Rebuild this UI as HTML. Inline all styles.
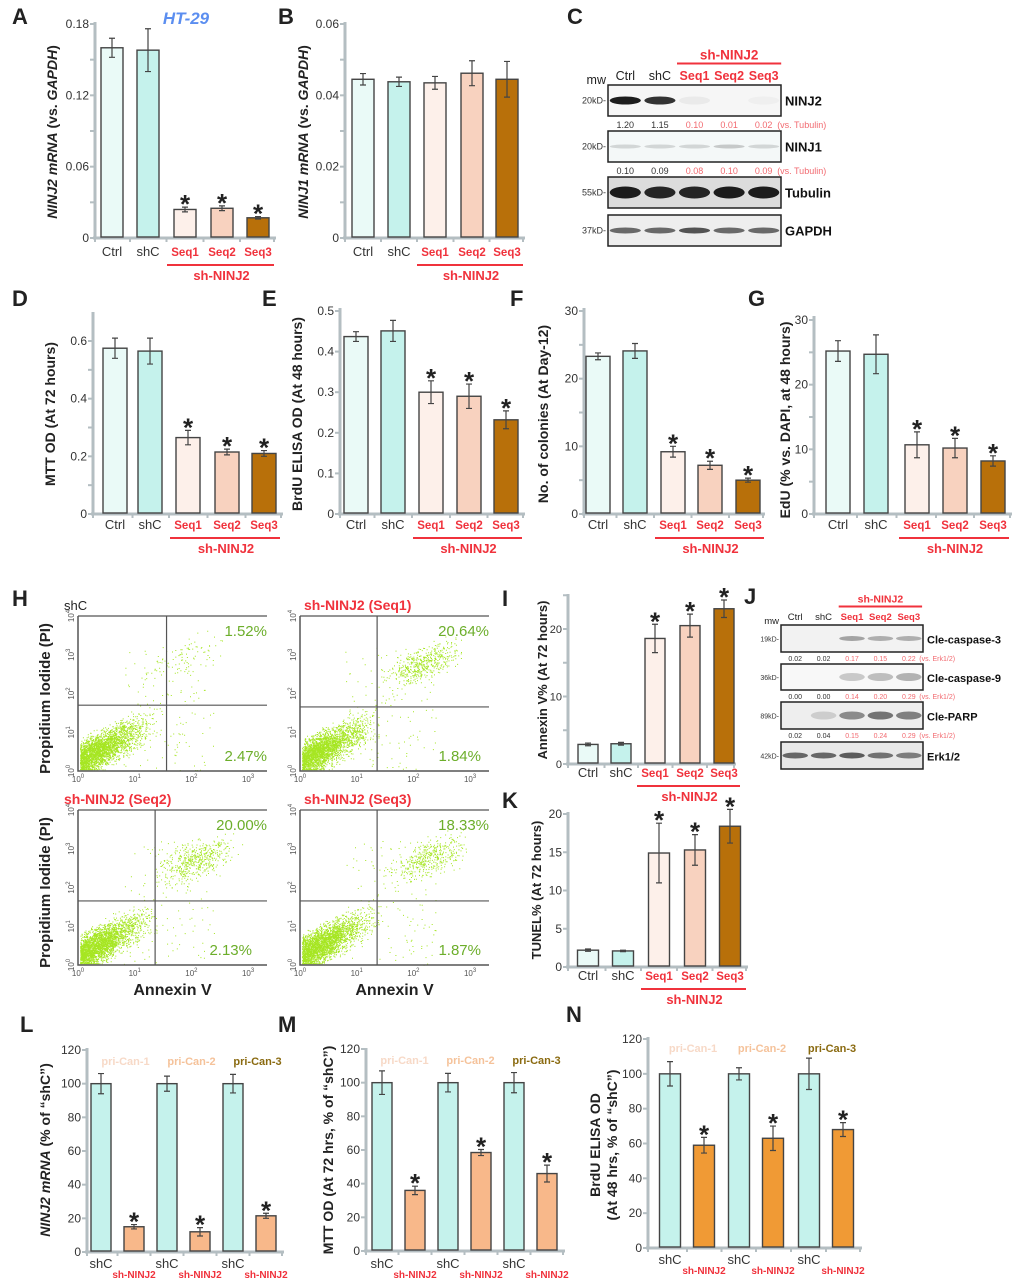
<!DOCTYPE html>
<html><head><meta charset="utf-8">
<style>
body{margin:0;background:#fff;}
svg{display:block;font-family:"Liberation Sans",Arial,sans-serif;}
</style></head>
<body>
<svg id="fig" width="1020" height="1281" viewBox="0 0 1020 1281" xmlns="http://www.w3.org/2000/svg">
<g id="root"></g>
</svg>
<script>
// ---- data ----
const catsA = ["Ctrl","shC","Seq1","Seq2","Seq3"];
const valsA = [0.160,0.158,0.024,0.025,0.017];
const errA  = [0.008,0.018,0.002,0.002,0.001];
const valsB = [0.0445,0.0438,0.0435,0.0462,0.0445];
const errB  = [0.0016,0.0013,0.0018,0.0035,0.0050];
const valsD = [0.575,0.565,0.265,0.215,0.210];
const errD  = [0.035,0.045,0.025,0.010,0.010];
const valsE = [0.437,0.451,0.300,0.290,0.232];
const errE  = [0.012,0.026,0.028,0.030,0.022];
const valsF = [23.3,24.1,9.2,7.2,5.0];
const errF  = [0.5,1.1,0.8,0.6,0.3];
const valsG = [25.2,24.7,10.7,10.2,8.2];
const errG  = [1.6,3.0,2.0,1.5,0.8];
const valsI = [2.9,3.0,18.6,20.5,23.0];
const errI  = [0.2,0.2,2.1,1.7,1.3];
const valsK = [2.2,2.1,14.9,15.3,18.4];
const errK  = [0.15,0.1,3.9,2.0,2.2];
const catsL = ["shC","sh-NINJ2","shC","sh-NINJ2","shC","sh-NINJ2"];
const valsL = [100,15,100,12,100,21.5];
const errL  = [6,1.3,4.5,2.5,5.5,1.5];
const valsM = [100,36,100,58.5,100,46];
const errM  = [7,2.5,5.5,1.8,6,5];
const valsN = [100,59,100,63,100,68];
const errN  = [7,4.5,3.5,7,9,4];
const blotC1 = ["1.20","1.15","0.10","0.01","0.02"];
const blotC2 = ["0.10","0.09","0.08","0.10","0.09"];
const blotJ1 = ["0.02","0.02","0.17","0.15","0.22"];
const blotJ2 = ["0.00","0.00","0.14","0.20","0.29"];
const blotJ3 = ["0.02","0.04","0.15","0.24","0.29"];
const flowLabels = ["shC","sh-NINJ2 (Seq1)","sh-NINJ2 (Seq2)","sh-NINJ2 (Seq3)"];
const flowUR = ["1.52%","20.64%","20.00%","18.33%"];
const flowLR = ["2.47%","1.84%","2.13%","1.87%"];

const NS="http://www.w3.org/2000/svg";
const root=document.getElementById('root');
function el(tag,attrs,parent,txt){const e=document.createElementNS(NS,tag);for(const k in attrs)e.setAttribute(k,attrs[k]);if(txt!==undefined)e.textContent=txt;(parent||root).appendChild(e);return e;}
const AX="#b4bec2", RED="#f0323c";
const col5=["#eafaf7","#c5f2ec","#fdf0ea","#f8d2bf","#b8700a"];

function barChart(o){
  const g=el('g',{});
  
  
  const y=v=>o.y0-(v/o.ymax)*(o.y0-o.ytop);
  const ax=el('line',{x1:o.ax,y1:o.axTop,x2:o.ax,y2:o.y0+1,stroke:AX,'stroke-width':3},g);
  
  const xa=el('line',{x1:o.ax-2,y1:o.y0,x2:o.axRight,y2:o.y0,stroke:AX,'stroke-width':3},g);
  
  o.ticks.forEach((t,i)=>{
    el('line',{x1:o.ax-5,y1:y(t),x2:o.ax,y2:y(t),stroke:AX,'stroke-width':2},g);
    if(o.tickLabels[i]!==""){const tl=el('text',{x:o.ax-6,y:y(t)+4,'text-anchor':'end','font-size':o.tfs||12,fill:'#333'},g,o.tickLabels[i]);
    }
  });
  const n=o.vals.length;
  const xs=o.xs;
  for(let i=0;i<=n;i++){const xx=i==0?o.ax:(i==n?o.axRight-2:(xs[i-1]+xs[i])/2);el('line',{x1:xx,y1:o.y0,x2:xx,y2:o.y0+4,stroke:AX,'stroke-width':2},g);}
  o.vals.forEach((v,i)=>{
    const r=el('rect',{x:xs[i]-o.bw/2,y:y(v),width:o.bw,height:o.y0-1-y(v),fill:o.colors[i],stroke:'#444','stroke-width':1.4},g);
    
    const e=o.errs[i],yt=y(v+e),yb=y(v-e);
    el('path',{d:`M${xs[i]},${yt}V${yb}M${xs[i]-3},${yt}H${xs[i]+3}M${xs[i]-3},${yb}H${xs[i]+3}`,stroke:'#444','stroke-width':1.2,fill:'none'},g);
    if(o.stars[i]){const s=el('text',{x:xs[i],y:yt+6,'text-anchor':'middle','font-size':26,'font-weight':'bold',fill:'#222'},g,'*');
      }
    const lab=o.cats[i];
    const isRed=lab.startsWith('Seq')||lab==='sh-NINJ2';
    const t=el('text',{x:xs[i],y:o.labY+(lab==='sh-NINJ2'?10:0),'text-anchor':'middle','font-size':lab==='sh-NINJ2'?10:(isRed?11.5:13),'font-weight':isRed?'bold':'normal',fill:isRed?RED:'#333'},g,lab);
    
  });
  if(o.group){
    el('line',{x1:xs[2]-18,y1:o.labY+9,x2:xs[4]+16,y2:o.labY+9,stroke:RED,'stroke-width':2},g);
    const gl=el('text',{x:(xs[2]+xs[4])/2,y:o.labY+24,'text-anchor':'middle','font-size':13,'font-weight':'bold',fill:RED},g,'sh-NINJ2');
    
  }
  const yl=el('text',{transform:`translate(${o.ylx},${o.yly}) rotate(-90)`,'text-anchor':'middle','font-size':o.yfs||14,'font-weight':'bold',fill:'#222'},g);
  
  o.ytitle.forEach(p=>{el('tspan',{'font-style':p[1]?'italic':'normal'},yl,p[0]);});
  if(o.ytitle2){const y2=el('text',{transform:`translate(${o.ylx+17},${o.yly}) rotate(-90)`,'text-anchor':'middle','font-size':o.yfs||14,'font-weight':'bold',fill:'#222'},g,o.ytitle2);
    }
  const pl=el('text',{x:o.plx,y:o.ply,'font-size':22,'font-weight':'bold',fill:'#222'},g,o.panel);
  
  return g;
}
const c6=["#c5f2ec","#f8b88a","#c5f2ec","#f8b88a","#c5f2ec","#f8b88a"];
const c6N=["#c5f2ec","#f09a35","#c5f2ec","#f09a35","#c5f2ec","#f09a35"];
const s5=[0,0,1,1,1], s6=[0,1,0,1,0,1];

barChart({name:'chart-a',panel:'A',plx:12,ply:24,vals:valsA,errs:errA,cats:catsA,stars:s5,colors:col5,xs:[112,148,185,222,258],bw:22,ax:95,axTop:22,axRight:276,y0:238,ytop:24,ymax:0.18,ticks:[0,0.03,0.06,0.09,0.12,0.15,0.18],tickLabels:["0","","0.06","","0.12","","0.18"],labY:256,group:true,ylx:57,yly:132,ytitle:[["NINJ2 mRNA",1],[" (vs. ",0],["GAPDH",1],[")",0]]});
barChart({name:'chart-b',panel:'B',plx:278,ply:24,vals:valsB,errs:errB,cats:catsA,stars:[0,0,0,0,0],colors:col5,xs:[363,399,435,472,507],bw:22,ax:345,axTop:22,axRight:525,y0:238,ytop:24,ymax:0.06,ticks:[0,0.01,0.02,0.03,0.04,0.05,0.06],tickLabels:["0","","0.02","","0.04","","0.06"],labY:256,group:true,ylx:308,yly:132,ytitle:[["NINJ1 mRNA",1],[" (vs. ",0],["GAPDH",1],[")",0]]});
el('text',{x:186,y:24,'text-anchor':'middle','font-size':17,'font-weight':'bold','font-style':'italic',fill:'#5b8ef0',},root,'HT-29');

barChart({name:'chart-d',panel:'D',plx:12,ply:306,vals:valsD,errs:errD,cats:catsA,stars:s5,colors:col5,xs:[115,150,188,227,264],bw:24,ax:93,axTop:312,axRight:283,y0:514,ytop:341,ymax:0.6,ticks:[0,0.1,0.2,0.3,0.4,0.5,0.6],tickLabels:["0","","0.2","","0.4","","0.6"],labY:529,group:true,ylx:55,yly:414,ytitle:[["MTT OD (At 72 hours)",0]]});
barChart({name:'chart-e',panel:'E',plx:262,ply:306,vals:valsE,errs:errE,cats:catsA,stars:s5,colors:col5,xs:[356,393,431,469,506],bw:24,ax:340,axTop:308,axRight:525,y0:514,ytop:311,ymax:0.5,ticks:[0,0.1,0.2,0.3,0.4,0.5],tickLabels:["0","0.1","0.2","0.3","0.4","0.5"],labY:529,group:true,ylx:302,yly:414,ytitle:[["BrdU ELISA OD (At 48 hours)",0]]});
barChart({name:'chart-f',panel:'F',plx:510,ply:306,vals:valsF,errs:errF,cats:catsA,stars:s5,colors:col5,xs:[598,635,673,710,748],bw:24,ax:584,axTop:308,axRight:765,y0:514,ytop:311,ymax:30,ticks:[0,5,10,15,20,25,30],tickLabels:["0","","10","","20","","30"],labY:529,group:true,ylx:548,yly:414,ytitle:[["No. of colonies (At Day-12)",0]]});
barChart({name:'chart-g',panel:'G',plx:748,ply:306,vals:valsG,errs:errG,cats:catsA,stars:s5,colors:col5,xs:[838,876,917,955,993],bw:24,ax:814,axTop:316,axRight:1012,y0:514,ytop:320,ymax:30,ticks:[0,5,10,15,20,25,30],tickLabels:["0","","10","","20","","30"],labY:529,group:true,ylx:790,yly:420,ytitle:[["EdU (% vs. DAPI, at 48 hours)",0]]});

barChart({name:'chart-i',panel:'I',plx:502,ply:606,vals:valsI,errs:errI,cats:catsA,stars:s5,colors:col5,xs:[588,621,655,690,724],bw:20,ax:568,axTop:594,axRight:736,y0:764,ytop:629,ymax:20,ticks:[0,5,10,15,20,25],tickLabels:["0","","10","","20",""],labY:777,group:true,tfs:11,yfs:13,ylx:547,yly:680,ytitle:[["Annexin V% (At 72 hours)",0]]});
barChart({name:'chart-k',panel:'K',plx:502,ply:808,vals:valsK,errs:errK,cats:catsA,stars:s5,colors:col5,xs:[588,623,659,695,730],bw:21,ax:568,axTop:812,axRight:748,y0:967,ytop:814,ymax:20,ticks:[0,5,10,15,20],tickLabels:["0","5","10","15","20"],labY:980,group:true,tfs:12,yfs:13,ylx:541,yly:890,ytitle:[["TUNEL% (At 72 hours)",0]]});

barChart({name:'chart-l',panel:'L',plx:20,ply:1032,vals:valsL,errs:errL,cats:catsL,stars:s6,colors:c6,xs:[101,134,167,200,233,266],bw:20,ax:87,axTop:1048,axRight:284,y0:1252,ytop:1050,ymax:120,ticks:[0,20,40,60,80,100,120],tickLabels:["0","20","40","60","80","100","120"],labY:1268,group:false,ylx:50,yly:1150,ytitle:[["NINJ2 mRNA",1],[" (% of “shC”)",0]]});
barChart({name:'chart-m',panel:'M',plx:278,ply:1032,vals:valsM,errs:errM,cats:catsL,stars:s6,colors:c6,xs:[382,415,448,481,514,547],bw:20,ax:366,axTop:1048,axRight:565,y0:1251,ytop:1049,ymax:120,ticks:[0,20,40,60,80,100,120],tickLabels:["0","20","40","60","80","100","120"],labY:1268,group:false,ylx:333,yly:1150,ytitle:[["MTT OD (At 72 hrs, % of “shC”)",0]]});
barChart({name:'chart-n',panel:'N',plx:566,ply:1022,vals:valsN,errs:errN,cats:catsL,stars:s6,colors:c6N,xs:[670,704,739,773,809,843],bw:21,ax:648,axTop:1037,axRight:862,y0:1248,ytop:1039,ymax:120,ticks:[0,20,40,60,80,100,120],tickLabels:["0","20","40","60","80","100","120"],labY:1264,group:false,ylx:600,yly:1145,ytitle:[["BrdU ELISA OD",0]],ytitle2:"(At 48 hrs, % of “shC”)"});

const priCols=["#f7d9c7","#f5c29a","#8a6a10"];
[[101,134],[167,200],[233,266]].forEach((p,i)=>{el('text',{x:(p[0]+p[1])/2+8,y:1065,'text-anchor':'middle','font-size':11,'font-weight':'bold',fill:priCols[i],},root,'pri-Can-'+(i+1));});
[[382,415],[448,481],[514,547]].forEach((p,i)=>{el('text',{x:(p[0]+p[1])/2+6,y:1064,'text-anchor':'middle','font-size':11,'font-weight':'bold',fill:priCols[i],},root,'pri-Can-'+(i+1));});
[[670,704],[739,773],[809,843]].forEach((p,i)=>{el('text',{x:(p[0]+p[1])/2+6,y:1052,'text-anchor':'middle','font-size':11,'font-weight':'bold',fill:priCols[i],},root,'pri-Can-'+(i+1));});

function blot(o){
  const g=el('g',{});
  
  const lw=(o.x1-o.x0)/5;
  const lc=[0,1,2,3,4].map(i=>o.x0+lw*(i+0.5));
  const heads=["Ctrl","shC","Seq1","Seq2","Seq3"];
  heads.forEach((h,i)=>{const t=el('text',{x:lc[i],y:o.hy,'text-anchor':'middle','font-size':o.hfs,'font-weight':i>1?'bold':'normal',fill:i>1?RED:'#222'},g,h);});
  el('text',{x:o.x0-2,y:o.hy+4,'text-anchor':'end','font-size':o.hfs,fill:'#222'},g,'mw');
  el('line',{x1:lc[2]-o.hfs*1.4,y1:o.hy-o.hfs-4,x2:lc[4]+o.hfs*1.4,y2:o.hy-o.hfs-4,stroke:RED,'stroke-width':2},g);
  el('text',{x:lc[3],y:o.hy-o.hfs-8,'text-anchor':'middle','font-size':o.hfs+1,'font-weight':'bold',fill:RED},g,'sh-NINJ2');
  o.rows.forEach(r=>{
    const bx=el('rect',{x:o.x0,y:r.y,width:o.x1-o.x0,height:r.h,fill:r.bg||'#f6f6f6',stroke:'#222','stroke-width':1.5},g);
    
    r.band.forEach((a,i)=>{if(a>0)el('ellipse',{cx:lc[i],cy:r.y+r.h/2,rx:lw*0.45,ry:r.bh,fill:'#111','fill-opacity':a},g);});
    el('text',{x:o.x1+4,y:r.y+r.h/2+5,'font-size':o.lfs,'font-weight':'bold',fill:'#111'},g,r.label);
    el('text',{x:o.x0-2,y:r.y+r.h/2+3,'text-anchor':'end','font-size':o.mfs,fill:'#333'},g,r.mw+'-');
    if(r.q){r.q.forEach((v,i)=>{el('text',{x:lc[i],y:r.y+r.h+o.qdy,'text-anchor':'middle','font-size':o.qfs,fill:i>1?'#f26a70':'#333'},g,v);});
      el('text',{x:lc[4]+o.qfs*1.5,y:r.y+r.h+o.qdy,'font-size':o.qfs,fill:'#f26a70'},g,o.vs);}
  });
}
blot({name:'western-blot-c',x0:608,x1:781,hy:80,hfs:12.5,lfs:13,mfs:9,qfs:9,qdy:12,vs:'(vs. Tubulin)',rows:[
  {label:'NINJ2',mw:'20kD',y:85,h:31,bh:4,q:blotC1,band:[0.95,0.85,0.05,0,0.03]},
  {label:'NINJ1',mw:'20kD',y:131,h:31,bh:2,bg:'#f4f8f8',q:blotC2,band:[0.15,0.15,0.15,0.2,0.15]},
  {label:'Tubulin',mw:'55kD',y:177,h:31,bh:6,bg:'#dcdcdc',band:[0.95,0.9,0.9,0.95,0.95]},
  {label:'GAPDH',mw:'37kD',y:215,h:31,bh:3,bg:'#eeeeee',band:[0.6,0.6,0.7,0.6,0.6]}]});
blot({name:'western-blot-j',x0:781,x1:923,hy:620,hfs:9.5,lfs:11,mfs:7,qfs:7,qdy:9,vs:'(vs. Erk1/2)',rows:[
  {label:'Cle-caspase-3',mw:'19kD',y:625,h:27,bh:2.5,bg:'#f2f2f2',q:blotJ1,band:[0,0,0.35,0.3,0.3]},
  {label:'Cle-caspase-9',mw:'36kD',y:664,h:26,bh:4,bg:'#f8f8f8',q:blotJ2,band:[0,0,0.2,0.25,0.3]},
  {label:'Cle-PARP',mw:'89kD',y:702,h:27,bh:4,bg:'#eeeeee',q:blotJ3,band:[0,0.15,0.45,0.55,0.5]},
  {label:'Erk1/2',mw:'42kD',y:742,h:27,bh:3,bg:'#e8e8e8',band:[0.6,0.6,0.65,0.55,0.5]}]});
el('text',{x:567,y:24,'font-size':22,'font-weight':'bold',fill:'#222',},root,'C');
el('text',{x:744,y:604,'font-size':22,'font-weight':'bold',fill:'#222',},root,'J');
el('text',{x:12,y:606,'font-size':22,'font-weight':'bold',fill:'#222',},root,'H');

const flowPos=[[78,616],[300,616],[78,810],[300,810]];
const gateX=[35,22,22,22];
const gateY=[50,45,45,45];
const upperCluster=[[70,800,0.05],[150,600,0.5],[120,500,0.5],[180,600,0.45]];
let seed=7;function rnd(){seed=(seed*16807)%2147483647;return seed/2147483647;}
function gauss(){return (rnd()+rnd()+rnd()-1.5)/0.5;}
flowPos.forEach((p,k)=>{
  const g=el('g',{});
  
  const W=189,H=155,x0=p[0],y0=p[1];
  const lx=v=>x0+Math.log10(v)/3*W*0.9+1;
  const ly=v=>y0+H-Math.log10(v)/4*H;
  let d='';
  const n=2600;
  for(let i=0;i<n;i++){const a=Math.abs(gauss())*0.45,b=gauss()*0.22;const u=Math.min(a*1.1,1.35),v=u*0.75+b+0.25;
    const px=x0+2+u/3*W*0.9,py=y0+H-1-Math.max(v,0.02)/4*H;d+=`M${px.toFixed(1)},${py.toFixed(1)}h1v1h-1z`;}
  const uc=upperCluster[k];const nu=Math.round(900*uc[2])+40;
  for(let i=0;i<nu;i++){const u=Math.log10(uc[0])+gauss()*0.3,v=Math.log10(uc[1])+gauss()*0.22+ (u-Math.log10(uc[0]))*0.5;
    d+=`M${(x0+u/3*W*0.9).toFixed(1)},${(y0+H-v/4*H).toFixed(1)}h1v1h-1z`;}
  for(let i=0;i<120;i++){const u=0.8+rnd()*1.6,v=rnd()*3.2;d+=`M${(x0+u/3*W*0.9).toFixed(1)},${(y0+H-v/4*H).toFixed(1)}h1v1h-1z`;}
  el('path',{d:d,fill:'#a6e622'},g);
  el('path',{d:`M${x0},${y0}V${y0+H}H${x0+W}`,stroke:'#555','stroke-width':1.5,fill:'none'},g);
  el('line',{x1:x0,y1:y0,x2:x0+W,y2:y0,stroke:'#555','stroke-width':1.2},g);
  el('line',{x1:lx(gateX[k]),y1:y0,x2:lx(gateX[k]),y2:y0+H,stroke:'#555','stroke-width':1.2},g);
  el('line',{x1:x0,y1:ly(gateY[k]),x2:x0+W,y2:ly(gateY[k]),stroke:'#555','stroke-width':1.2},g);
  for(let e=0;e<=3;e++){const t=el('text',{x:x0+e/3*W*0.9,y:y0+H+11,'text-anchor':'middle','font-size':8,fill:'#555'},g,'10');el('tspan',{dy:-4,'font-size':6},t,String(e));}
  for(let e=0;e<=4;e++){const t=el('text',{transform:`translate(${x0-4},${y0+H-e/4*H}) rotate(-90)`,'text-anchor':'middle','font-size':8,fill:'#555'},g,'10');el('tspan',{dy:-4,'font-size':6},t,String(e));}
  const tt=el('text',{x:x0+4-(k%2==0?18:0),y:y0-6,'font-size':k==0?13:14,'font-weight':k==0?'normal':'bold',fill:k==0?'#222':RED},g,flowLabels[k]);
  
  el('text',{x:x0+W,y:y0+20,'text-anchor':'end','font-size':15,fill:'#6cae2a'},g,flowUR[k]);
  el('text',{x:x0+W-(k==2?15:(k==0?0:8)),y:y0+H-10,'text-anchor':'end','font-size':15,fill:'#6cae2a'},g,flowLR[k]);
  if(k%2==0){const yt=el('text',{transform:`translate(${x0-28},${y0+H/2+5}) rotate(-90)`,'text-anchor':'middle','font-size':15,'font-weight':'bold',fill:'#222'},g,'Propidium Iodide (PI)');}
  if(k>=2){const xt=el('text',{x:x0+W/2,y:y0+H+30,'text-anchor':'middle','font-size':16,'font-weight':'bold',fill:'#222'},g,'Annexin V');}
});
</script>
</body></html>
